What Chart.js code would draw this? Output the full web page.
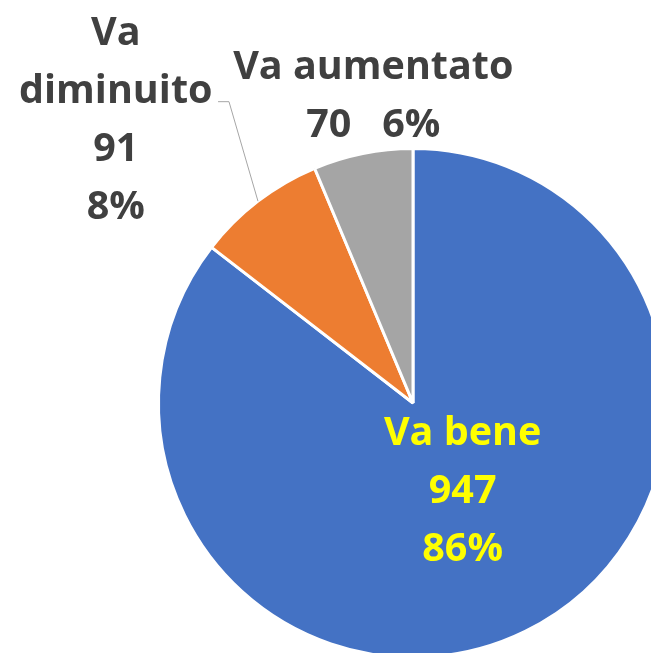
<!DOCTYPE html>
<html>
<head>
<meta charset="utf-8">
<script src="https://cdn.jsdelivr.net/npm/chart.js@4"></script>
<style>
    html, body { margin: 0; padding: 0; background: #fff; overflow: hidden; }
    #wrap { width: 651px; height: 653px; overflow: hidden; position: relative; }
    #pie { position: absolute; left: 0; top: 0; }
</style>
</head>
<body>
<div id="wrap"><canvas id="pie" width="700" height="700"></canvas></div>
<script>
// chart data
const labels = ['Va bene', 'Va diminuito', 'Va aumentato'];
const counts = [947, 91, 70];
const percents = ['86%', '8%', '6%'];
const colors = ['#4472C4', '#ED7D31', '#A5A5A5'];

const FONT = 'bold 39.5px "Open Sans", Lato, sans-serif';
const LINE = 58;

// text boxes drawn next to the slices (offsets are in units of the radius)
const labelPlugin = {
    id: 'sliceLabels',
    afterDraw(chart) {
        const ctx = chart.ctx;
        const arcs = chart.getDatasetMeta(0).data;
        const cx = arcs[0].x, cy = arcs[0].y, r = arcs[0].outerRadius;

        // x is the centre of the block, y the first baseline
        function block(lines, x, y, color) {
            ctx.fillStyle = color;
            lines.forEach((t, i) => ctx.fillText(t, x, y + i * LINE));
        }

        ctx.save();
        ctx.font = FONT;
        ctx.textAlign = 'center';
        ctx.textBaseline = 'alphabetic';

        // Va bene inside, yellow
        block([labels[0], String(counts[0]), percents[0]],
            cx + 0.195 * r, cy + 0.164 * r, '#FFFF00');

        // Va aumentato above
        block([labels[2], counts[2] + '   ' + percents[2]],
            cx - 0.156 * r, cy - 1.273 * r, '#404040');

        // Va diminuito on the left, split over lines
        block(['Va', 'diminuito', String(counts[1]), percents[1]],
            cx - 1.168 * r, cy - 1.406 * r, '#404040');

        // leader line to the orange slice
        const a = arcs[1];
        const mid = (a.startAngle + a.endAngle) / 2;
        const px = cx + Math.cos(mid) * r, py = cy + Math.sin(mid) * r;
        ctx.strokeStyle = '#A6A6A6';
        ctx.lineWidth = 1;
        ctx.beginPath();
        ctx.moveTo(cx - 0.766 * r, cy - 1.184 * r);
        ctx.lineTo(cx - 0.723 * r, cy - 1.184 * r);
        ctx.lineTo(px, py);
        ctx.stroke();
        ctx.restore();
    }
};

new Chart(document.getElementById('pie').getContext('2d'), {
    type: 'pie',
    data: {
        labels: labels,
        datasets: [{
            data: counts,
            backgroundColor: colors,
            borderColor: '#FFFFFF',
            borderWidth: 3
        }]
    },
    options: {
        responsive: false,
        animation: false,
        layout: { padding: { left: 157, top: 147, right: 31, bottom: 41 } },
        plugins: {
            legend: { display: false },
            tooltip: { enabled: false }
        }
    },
    plugins: [labelPlugin]
});
</script>
</body>
</html>
